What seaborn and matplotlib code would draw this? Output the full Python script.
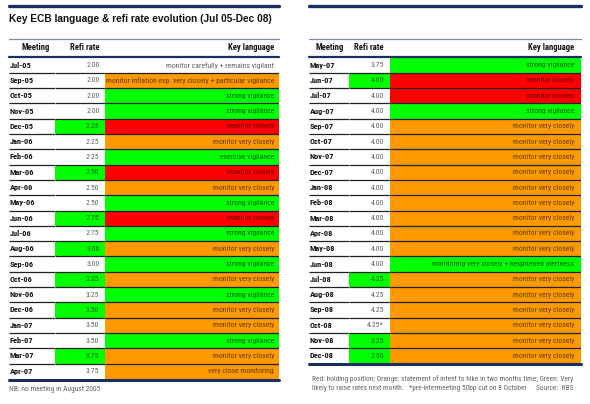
import numpy as np
import matplotlib
matplotlib.use("Agg")
import matplotlib.pyplot as plt
from matplotlib.colors import ListedColormap
import seaborn as sns

# --- Data ---
meetings_left = ["Jul-05", "Sep-05", "Oct-05", "Nov-05", "Dec-05", "Jan-06", "Feb-06",
                 "Mar-06", "Apr-06", "May-06", "Jun-06", "Jul-06", "Aug-06", "Sep-06",
                 "Oct-06", "Nov-06", "Dec-06", "Jan-07", "Feb-07", "Mar-07", "Apr-07"]
rates_left = ["2.00", "2.00", "2.00", "2.00", "2.25", "2.25", "2.25", "2.50", "2.50", "2.50",
              "2.75", "2.75", "3.00", "3.00", "3.25", "3.25", "3.50", "3.50", "3.50", "3.75",
              "3.75"]
language_left = ["monitor carefully + remains vigilant",
                 "monitor inflation exp. very closely + particular vigilance",
                 "strong vigilance", "strong vigilance", "monitor closely",
                 "monitor very closely", "exercise vigilance", "monitor closely",
                 "monitor very closely", "strong vigilance", "monitor closely",
                 "strong vigilance", "monitor very closely", "strong vigilance",
                 "monitor very closely", "strong vigilance", "monitor very closely",
                 "monitor very closely", "strong vigilance", "monitor very closely",
                 "very close monitoring"]
# w = white, g = green, o = orange, r = red
tone_left = ["w", "o", "g", "g", "r", "o", "g", "r", "o", "g", "r", "g", "o", "g", "o", "g",
             "o", "o", "g", "o", "o"]

meetings_right = ["May-07", "Jun-07", "Jul-07", "Aug-07", "Sep-07", "Oct-07", "Nov-07",
                  "Dec-07", "Jan-08", "Feb-08", "Mar-08", "Apr-08", "May-08", "Jun-08",
                  "Jul-08", "Aug-08", "Sep-08", "Oct-08", "Nov-08", "Dec-08"]
rates_right = ["3.75", "4.00", "4.00", "4.00", "4.00", "4.00", "4.00", "4.00", "4.00", "4.00",
               "4.00", "4.00", "4.00", "4.00", "4.25", "4.25", "4.25", "4.25*", "3.25", "2.50"]
language_right = ["strong vigilance", "monitor closely", "monitor closely", "strong vigilance",
                  "monitor very closely", "monitor very closely", "monitor very closely",
                  "monitor very closely", "monitor very closely", "monitor very closely",
                  "monitor very closely", "monitor very closely", "monitor very closely",
                  "monitoring very closely + heightened alertness",
                  "monitor very closely", "monitor very closely", "monitor very closely",
                  "monitor very closely", "monitor very closely", "monitor very closely"]
tone_right = ["g", "r", "r", "g", "o", "o", "o", "o", "o", "o", "o", "o", "o", "g", "o", "o",
              "o", "o", "o", "o"]

# --- Styling ---
sns.set_theme(style="white")
plt.rcParams["font.family"] = ["Roboto Condensed", "Liberation Sans", "DejaVu Sans"]

W, H = 590, 404
NAVY = "#1b2f63"
tone_code = {"w": 0, "g": 1, "o": 2, "r": 3}
cmap = ListedColormap(["#ffffff", "#00ff00", "#ff9900", "#ff0000"])
TXT = (0, 0, 0, 0.62)
GREY = "#666666"
ROW_H = 15.3
TOP = 57.5
FS = 5.6

fig = plt.figure(figsize=(W / 100, H / 100), dpi=100)
frame = fig.add_axes([0, 0, 1, 1], zorder=5)
frame.set_xlim(0, W)
frame.set_ylim(H, 0)
frame.axis("off")


def px_axes(x0, x1, y0, y1, z=1):
    return fig.add_axes([x0 / W, 1 - y1 / H, (x1 - x0) / W, (y1 - y0) / H], zorder=z)


def column(ax, codes, labels, n, bold=False, align="right", pad=5):
    sns.heatmap(np.array(codes).reshape(-1, 1), ax=ax, cmap=cmap, vmin=-0.5, vmax=3.5,
                cbar=False, annot=np.array(labels).reshape(-1, 1), fmt="",
                annot_kws={"fontsize": FS + (0.4 if bold else 0),
                           "color": "#151515" if bold else TXT,
                           "fontweight": "bold" if bold else "normal"})
    width_px = ax.get_position().width * W
    for t in ax.texts:
        if align == "right":
            t.set_ha("right")
            t.set_x(1 - pad / width_px)
        else:
            t.set_ha("left")
            t.set_x(pad / width_px)
    ax.hlines(np.arange(1, n), 0, 1, color="#222222", lw=0.9)
    ax.set_xticks([])
    ax.set_yticks([])
    ax.set_xlim(0, 1)
    ax.set_ylim(n, 0)


def panel(x0, xm, xr, x1, meetings, rates, language, tone, head_meet_x, rate_right, lang_right):
    n = len(meetings)
    y1 = TOP + n * ROW_H
    vals = [float(r.rstrip("*")) for r in rates]
    rate_codes = [0] + [1 if vals[i] != vals[i - 1] else 0 for i in range(1, n)]
    column(px_axes(x0, xm, TOP, y1), [0] * n, meetings, n, bold=True, align="left", pad=1)
    column(px_axes(xm, xr, TOP, y1), rate_codes, rates, n, pad=xr - rate_right)
    column(px_axes(xr, x1, TOP, y1), [tone_code[t] for t in tone], language, n,
           pad=x1 - lang_right)

    frame.plot([x0, x1], [6, 6], color=NAVY, lw=2.4)
    frame.plot([x0, x1], [38.5, 38.5], color="#7f8ca6", lw=0.9)
    frame.plot([x0, x1], [57.3, 57.3], color=NAVY, lw=1.6)
    frame.plot([x0, x1], [y1 + 0.8, y1 + 0.8], color=NAVY, lw=2.2)
    hk = dict(fontsize=FS + 0.6, fontweight="bold", color="#151515", va="center")
    frame.text(head_meet_x, 48, "Meeting", ha="center", **hk)
    frame.text(rate_right, 48, "Refi rate", ha="right", **hk)
    frame.text(lang_right, 48, "Key language", ha="right", **hk)
    return y1


panel(9, 55, 105, 279, meetings_left, rates_left, language_left, tone_left, 35.5, 99.5, 274)
panel(309, 349, 390, 581, meetings_right, rates_right, language_right, tone_right,
      329.5, 384, 574)

frame.text(9, 18.5, "Key ECB language & refi rate evolution (Jul 05-Dec 08)", ha="left",
           va="center", fontsize=7.3, fontweight="bold", color="#111111",
           family=["Liberation Sans", "DejaVu Sans"])
frame.text(9, 389.5, "NB: no meeting in August 2005", ha="left", va="center",
           fontsize=5.4, color=GREY)
frame.text(312, 379.5, "Red: holding position; Orange: statement of intent to hike in two "
           "months time; Green: Very", ha="left", va="center", fontsize=5.3, color=GREY)
frame.text(312, 388.5, "likely to raise rates next month.   *pre-intermeeting 50bp cut on "
           "8 October", ha="left", va="center", fontsize=5.3, color=GREY)
frame.text(574, 388.5, "Source:  RBS", ha="right", va="center", fontsize=5.3, color=GREY)

fig.savefig("out.png", dpi=100)
